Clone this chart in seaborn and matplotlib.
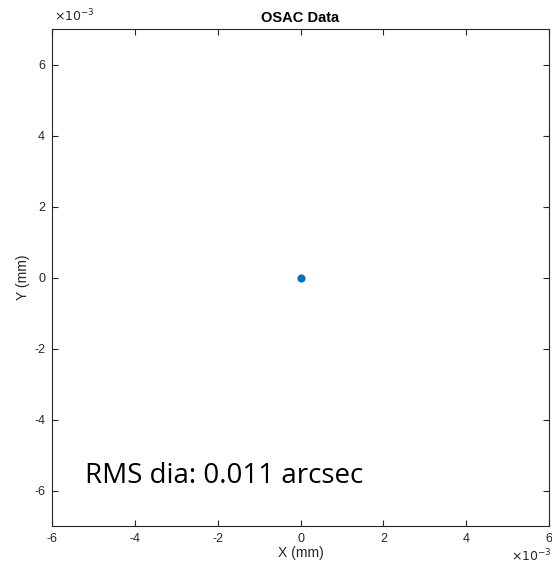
import numpy as np
import pandas as pd
import matplotlib
matplotlib.use("Agg")
import matplotlib.pyplot as plt
import seaborn as sns
from matplotlib.ticker import FuncFormatter

# data (mm)
spot_x = [0.0]
spot_y = [0.0]
x_ticks = [-6e-3, -4e-3, -2e-3, 0.0, 2e-3, 4e-3, 6e-3]
y_ticks = [-6e-3, -4e-3, -2e-3, 0.0, 2e-3, 4e-3, 6e-3]
rms_text = "RMS dia: 0.011 arcsec"

sns.set_theme(style="white")
plt.rcParams["font.family"] = ["Liberation Sans", "DejaVu Sans"]

df = pd.DataFrame({"x": spot_x, "y": spot_y})

fig = plt.figure(figsize=(5.52, 5.71), dpi=100)
ax = fig.add_axes([0.0942, 0.0788, 0.9004, 0.8704])

sns.scatterplot(data=df, x="x", y="y", ax=ax, color="#0072BD",
                s=34, edgecolor="#0072BD", linewidth=0)

ax.set_xlim(-6e-3, 6e-3)
ax.set_ylim(-7e-3, 7e-3)
ax.set_xticks(x_ticks)
ax.set_yticks(y_ticks)
fmt = FuncFormatter(lambda v, p: f"{v * 1e3:g}")
ax.xaxis.set_major_formatter(fmt)
ax.yaxis.set_major_formatter(fmt)

grey = "#262626"
for sp in ax.spines.values():
    sp.set_color(grey)
    sp.set_linewidth(0.8)
ax.tick_params(axis="both", which="both", direction="in", length=4, width=0.8,
               colors=grey, labelsize=9, labelcolor=grey,
               top=True, right=True, bottom=True, left=True, pad=5)

ax.set_xlabel("X (mm)", fontsize=10, color=grey, labelpad=1)
ax.set_ylabel("Y (mm)", fontsize=10, color=grey, labelpad=3)
ax.set_title("OSAC Data", fontsize=10.5, fontweight="bold", color="black", pad=5)

# exponent labels
fig.text(0.098, 0.958, r"$\times10^{-3}$", fontsize=9, color=grey, ha="left", va="bottom")
fig.text(0.999, 0.012, r"$\times10^{-3}$", fontsize=9, color=grey, ha="right", va="bottom")

ax.text(-5.2e-3, -5.8e-3, rms_text, fontsize=20, color="black",
        family=["Open Sans", "DejaVu Sans"], ha="left", va="baseline")

fig.savefig("out.png", dpi=100)
